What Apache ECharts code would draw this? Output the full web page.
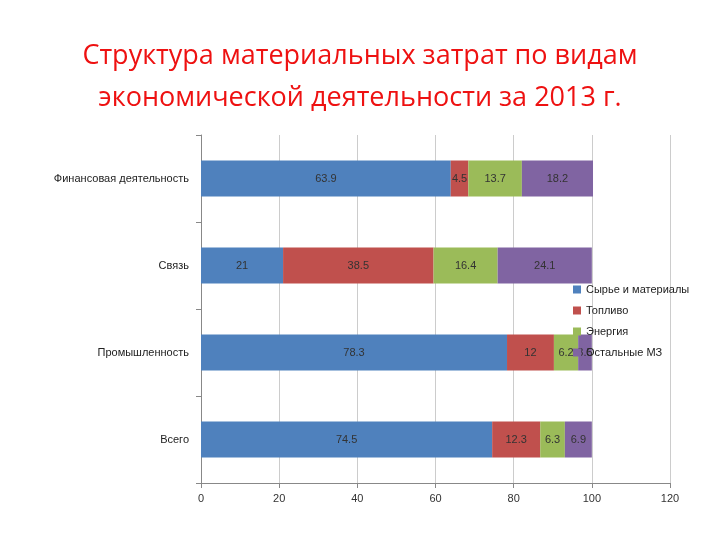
<!DOCTYPE html>
<html>
<head>
<meta charset="utf-8">
<script src="https://cdn.jsdelivr.net/npm/echarts@6/dist/echarts.min.js"></script>
<style>html,body{margin:0;background:#fff}#c{width:720px;height:540px}</style>
</head>
<body>
<div id="c"></div>
<script>
// категории снизу вверх
var categories = ['Всего', 'Промышленность', 'Связь', 'Финансовая деятельность'];
var rawMaterials = [74.5, 78.3, 21, 63.9];
var fuel = [12.3, 12, 38.5, 4.5];
var energy = [6.3, 6.2, 16.4, 13.7];
var otherMZ = [6.9, 3.5, 24.1, 18.2];
var seriesNames = ['Сырье и материалы', 'Топливо', 'Энергия', 'Остальные МЗ'];
var colors = ['#4f81bd', '#c0504d', '#9bbb59', '#8064a2'];

var chart = echarts.init(document.getElementById('c'));
var font = 'Liberation Sans, Arial, sans-serif';

function mk(name, data, color) {
  return {
    name: name,
    type: 'bar',
    stack: 'all',
    data: data,
    barWidth: 36,
    itemStyle: { color: color },
    label: { show: true, position: 'inside', color: '#333', fontSize: 11, fontFamily: font }
  };
}

chart.setOption({
  animation: false,
  title: {
    text: 'Структура материальных затрат по видам\nэкономической деятельности за 2013 г.',
    left: 'center',
    top: 30,
    textStyle: { color: '#e11', fontSize: 27, fontWeight: 'normal', lineHeight: 42, fontFamily: 'Open Sans, sans-serif' }
  },
  legend: {
    orient: 'vertical',
    left: 568,
    top: 279,
    itemWidth: 8,
    itemHeight: 8,
    itemGap: 10,
    icon: 'rect',
    textStyle: { fontSize: 11, color: '#222', fontFamily: font }
  },
  grid: { left: 201, right: 50, top: 135, bottom: 57 },
  xAxis: {
    type: 'value', min: 0, max: 120, interval: 20,
    axisLine: { show: true, lineStyle: { color: '#888' } },
    axisTick: { show: true, lineStyle: { color: '#888' } },
    axisLabel: { color: '#333', fontSize: 11, fontFamily: font, margin: 10 },
    splitLine: { show: true, lineStyle: { color: '#ccc' } }
  },
  yAxis: {
    type: 'category', data: categories,
    axisLine: { show: true, lineStyle: { color: '#888' } },
    axisTick: { show: true, lineStyle: { color: '#888' } },
    axisLabel: { color: '#222', fontSize: 11, fontFamily: font, margin: 12 }
  },
  series: [
    mk(seriesNames[0], rawMaterials, colors[0]),
    mk(seriesNames[1], fuel, colors[1]),
    mk(seriesNames[2], energy, colors[2]),
    mk(seriesNames[3], otherMZ, colors[3])
  ]
});
</script>
</body>
</html>
